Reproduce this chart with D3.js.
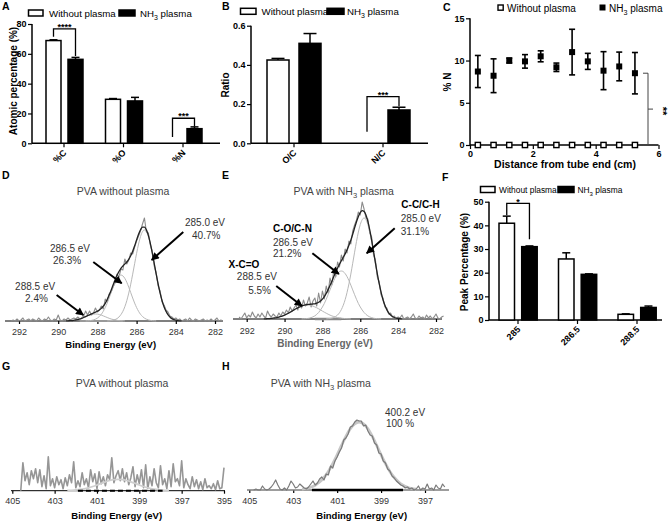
<!DOCTYPE html>
<html><head><meta charset="utf-8">
<script src="https://cdn.jsdelivr.net/npm/d3@7"></script>
<style>body{margin:0;background:#fff}svg{display:block}</style>
</head><body>
<svg id="chart" width="669" height="522"></svg>
<script>
// ================= DATA =================
// Panel A – atomic percentage
const aCategories = ["%C", "%O", "%N"];
const aWithout = [68.9, 29.5, 0];
const aWithoutErr = [0.5, 0.5, 0];
const aNH3 = [56.3, 28.4, 9.8];
const aNH3Err = [1.3, 2.4, 1.2];
const aTicks = [0, 20, 40, 60, 80];
// Panel B – ratios
const bCategories = ["O/C", "N/C"];
const bWithout = [0.425, 0];
const bWithoutErr = [0.008, 0];
const bNH3 = [0.51, 0.17];
const bNH3Err = [0.05, 0.014];
const bTicks = [0, 0.2, 0.4, 0.6];
// Panel C – %N along tube
const cDistance = [0.25, 0.75, 1.25, 1.75, 2.25, 2.75, 3.25, 3.75, 4.25, 4.75, 5.25];
const cNH3 = [8.7, 8.2, 10.0, 9.9, 10.5, 9.2, 11.0, 9.9, 8.8, 9.3, 8.5];
const cNH3Err = [1.9, 2.0, 0.3, 0.8, 0.65, 0.5, 2.7, 0.95, 2.25, 1.7, 2.45];
const cWithout = [0, 0, 0, 0, 0, 0, 0, 0, 0, 0, 0];
const cXTicks = [0, 2, 4, 6];
const cYTicks = [0, 5, 10, 15];
// Panel F – peak percentages
const fCategories = ["285", "286.5", "288.5"];
const fWithout = [40.9, 25.8, 2.4];
const fWithoutErr = [3.0, 2.6, 0.2];
const fNH3 = [31.0, 19.3, 5.3];
const fNH3Err = [0.3, 0.2, 0.6];
const fTicks = [0, 10, 20, 30, 40, 50];

// C1s spectra (energy grid: start eV, 0.1 eV steps, descending)
const c1sTicks = [292, 290, 288, 286, 284, 282];
const dRawStart = 292.4;
const dRaw = [0,1,0,2,0,1,3,0,1,2, 0,2,1,0,3,1,0,2,1,4, 1,0,2,1,6,1,0,2,1,3, 1,2,3,2,4,2,3,5,10,6,
  10,6,8,13,9,11,15,12,22,19, 27,29,34,38,47,44,52,51,62,57, 61,68,67,74,80,85,90,97,103,89,
  88,76,70,55,48,35,30,19,16,11, 9,5,4,2,3,1,2,0,1,2, 0,3,1,0,2,1,0,1,2,0, 1,0,2,0,1,3,0,1,0];
const dFit288Start = 289.6;
const dFit288 = [.1,.2,.3,.4,.7,1.0,1.5,2.0,2.7,3.5,4.3,5.1,5.9,6.5,6.9,7,6.9,6.5,5.9,5.1,4.3,3.5,2.7,2.0,1.5,1.0,.7,.4,.3,.2,.1];
const dFit286Start = 288.6;
const dFit286 = [.1,.2,.3,.6,1.1,1.8,2.9,4.5,6.7,9.7,13.4,17.9,23.0,28.4,33.8,38.7,42.6,45.1,46,45.1,42.6,38.7,33.8,28.4,23.0,17.9,13.4,9.7,6.7,4.5,2.9,1.8,1.1,.6,.3,.2,.1];
const dFit285Start = 287.5;
const dFit285 = [.1,.2,.4,.8,1.4,2.4,4.0,6.4,9.7,14.3,20.3,27.9,36.8,46.8,57.3,67.7,77.0,84.5,89.3,91,89.3,84.5,77.0,67.7,57.3,46.8,36.8,27.9,20.3,14.3,9.7,6.4,4.0,2.4,1.4,.8,.4,.2,.1];
const dBackground = [288.9, 286.7];

const eRawStart = 292.4;
const eRaw = [2,0,3,6,1,4,2,7,3,1, 5,2,6,3,1,8,4,2,5,3, 2,6,3,7,5,9,6,12,8,11, 14,9,17,11,19,13,16,22,12,18,
  21,13,26,16,28,20,33,26,41,34, 49,42,57,52,64,58,70,66,78,75, 88,94,99,107,104,117,110,101,100,86,
  82,64,59,42,37,24,21,12,11,5, 6,2,3,0,2,1,4,0,1,2, 0,2,5,1,0,3,1,2,0,4, 1,3,0,2,5,1,0,2,3];
const eFit288Start = 291.1;
const eFit288 = [.1,.2,.3,.4,.6,.8,1.1,1.4,1.9,2.5,3.1,3.9,4.8,5.8,6.8,7.9,9.1,10.2,11.2,12.1,12.9,13.5,13.9,14,13.9,13.5,12.9,12.1,11.2,10.2,9.1,7.9,6.8,5.8,4.8,3.9,3.1,2.5,1.9,1.4,1.1,.8,.6,.4,.3,.2,.1];
const eFit286Start = 289.1;
const eFit286 = [.1,.2,.3,.5,.8,1.4,2.1,3.1,4.6,6.5,9.0,12.0,15.5,19.7,24.3,29.1,33.9,38.4,42.4,45.4,47.4,48,47.4,45.4,42.4,38.4,33.9,29.1,24.3,19.7,15.5,12.0,9.0,6.5,4.6,3.1,2.1,1.4,.8,.5,.3,.2,.1];
const eFit285Start = 287.8;
const eFit285 = [.1,.3,.5,.8,1.5,2.5,4.0,6.2,9.4,13.7,19.3,26.5,35.1,44.9,55.7,66.8,77.5,87.0,94.5,99.3,101,99.3,94.5,87.0,77.5,66.8,55.7,44.9,35.1,26.5,19.3,13.7,9.4,6.2,4.0,2.5,1.5,.8,.5,.3,.1];
const eBackground = [288.4, 287.0];

// N1s spectra
const gTicks = [405, 403, 401, 399, 397, 395];
const hTicks = [405, 403, 401, 399, 397];
const gRawStart = 404.6;
const gRaw = [0,28,10,18,6,20,12,22,8,21, 4,15,2,34,5,12,3,14,6,11, 2,13,5,16,8,29,3,10,4,18,
  6,12,3,21,9,17,2,19,7,14, 5,16,11,33,8,15,20,10,22,9, 18,6,13,24,4,16,7,21,3,26,
  2,14,5,22,8,3,25,6,12,2, 20,4,27,9,12,5,30,3,12,6, 2,14,4,11,2,9,1,12,3,5, 2,7,1,10,2,3,23];
const gFitStart = 402.4;   // 0.2 eV steps
const gFit = [.2,.4,.7,1.2,1.9,2.9,4.2,5.7,7.3,8.9,10.2,11.1,11.4,11.1,10.2,8.9,7.3,5.7,4.2,2.9,1.9,1.2,.7,.4,.2];
const gBackground = [401.9, 397.9];
const hRawStart = 404.8;
const hRaw = [0,1,0,0,4,1,0,1,3,6, 10,5,1,0,2,0,4,9,6,2, 3,6,4,2,1,3,6,9,5,7, 11,13,10,16,15,24,22,29,33,38,
  42,50,52,56,63,64,68,70,69,69, 64,65,59,55,54,47,45,37,36,29, 27,21,19,14,12,9,7,5,4,2,
  3,1,2,0,1,4,0,2,1,6, 1,2,0,5,2,1,6,3];
const hFitStart = 402.6;   // 0.2 eV steps
const hFit = [.8,1.5,2.8,4.8,8.0,12.5,18.6,26.3,35.1,44.6,53.6,61.2,66.2,68,66.2,61.2,53.6,44.6,35.1,26.3,18.6,12.5,8.0,4.8,2.8,1.5,.8];
const hBackground = [402.15, 398.0];

// ================= DRAWING =================
const F = "'Liberation Sans', Arial, Helvetica, sans-serif";
const svg = d3.select("#chart");

function setRich(t, s, size) {
  const parts = s.split("NH3");
  parts.forEach((p, i) => {
    if (i > 0) {
      t.append("tspan").text("NH");
      t.append("tspan").attr("font-size", size * 0.72).attr("dy", size * 0.3).text("3");
      t.append("tspan").attr("dy", -size * 0.3).text(p);
    } else if (p) t.append("tspan").text(p);
  });
}
function label(x, y, s, o = {}) {
  const size = o.size || 10;
  const t = svg.append("text").attr("x", x).attr("y", y)
    .attr("font-family", F).attr("font-size", size)
    .attr("font-weight", o.bold ? "bold" : "normal")
    .attr("fill", o.fill || "#000")
    .attr("text-anchor", o.anchor || "start");
  if (o.rotate) t.attr("transform", `rotate(${o.rotate},${x},${y})`);
  setRich(t, s, size);
  return t;
}
function line(x1, y1, x2, y2, w = 1.5, c = "#000") {
  return svg.append("line").attr("x1", x1).attr("y1", y1).attr("x2", x2).attr("y2", y2)
    .attr("stroke", c).attr("stroke-width", w);
}
function styleAxis(g, size, bold, color) {
  g.select(".domain").remove();
  g.selectAll(".tick line").attr("stroke", color || "#000").attr("stroke-width", 1.2);
  g.selectAll(".tick text").attr("font-family", F).attr("font-size", size)
    .attr("font-weight", bold ? "bold" : "normal").attr("fill", color || "#000");
}

function drawBars(o) {
  const y0 = o.y(0), yTop = o.y(o.y.domain()[1]);
  const ax = svg.append("g").attr("transform", `translate(${o.axisX},0)`)
    .call(d3.axisLeft(o.y).tickValues(o.ticks).tickFormat(o.fmt).tickSize(4).tickPadding(1.5).tickSizeOuter(0));
  styleAxis(ax, o.fs, true);
  line(o.axisX, yTop, o.axisX, y0, 1.5);
  line(o.axisX, y0, o.axisEnd, y0, 1.5);
  const cx = c => o.x(c) + o.x.bandwidth() / 2;
  o.cats.forEach(c => {
    line(cx(c), y0, cx(c), y0 + 4, 1.2);
    svg.append("text").attr("font-family", F).attr("font-size", o.fs).attr("font-weight", "bold")
      .attr("text-anchor", "end")
      .attr("transform", `translate(${cx(c) + 3},${y0 + 10}) rotate(-45)`).text(c);
  });
  const series = [
    { v: o.w, e: o.we, fill: "#fff", off: o.offW },
    { v: o.n, e: o.ne, fill: "#000", off: o.offN }
  ];
  series.forEach(s => {
    o.cats.forEach((c, i) => {
      if (s.v[i] <= 0) return;
      const bx = cx(c) + s.off, top = o.y(s.v[i]), mid = bx + o.barW / 2;
      const et = o.y(s.v[i] + s.e[i]);
      line(mid, top, mid, et, 1.5);
      line(mid - o.capW / 2, et, mid + o.capW / 2, et, 1.5);
      svg.append("rect").attr("x", bx).attr("y", top).attr("width", o.barW).attr("height", y0 - top)
        .attr("fill", s.fill).attr("stroke", "#000").attr("stroke-width", 1.5);
    });
  });
  (o.brackets || []).forEach(b => {
    const i = o.cats.indexOf(b.cat);
    const lx = cx(b.cat) + o.offW + o.barW / 2, rx = cx(b.cat) + o.offN + o.barW / 2;
    const ty = o.y(b.top);
    const ly = o.y(o.w[i] + o.we[i]) - b.lg, ry = o.y(o.n[i] + o.ne[i]) - b.rg;
    svg.append("path").attr("d", `M${lx},${ly}V${ty}H${rx}V${ry}`)
      .attr("fill", "none").attr("stroke", "#000").attr("stroke-width", 1.3);
    label((lx + rx) / 2, ty + 1.2, b.stars, { size: 9, bold: true, anchor: "middle" });
  });
}

function legendBars(xOpen, xText1, xFilled, xText2, y, w, h, fs) {
  svg.append("rect").attr("x", xOpen).attr("y", y).attr("width", w).attr("height", h)
    .attr("fill", "#fff").attr("stroke", "#000").attr("stroke-width", 1.5);
  label(xText1, y + h + 0.8, "Without plasma", { size: fs });
  svg.append("rect").attr("x", xFilled).attr("y", y).attr("width", w + 1.5).attr("height", h)
    .attr("fill", "#000").attr("stroke", "#000").attr("stroke-width", 1.5);
  label(xText2, y + h + 0.8, "NH3 plasma", { size: fs });
}

// ---------- Panel A ----------
label(2, 9.5, "A", { size: 10.5, bold: true });
legendBars(28.5, 49, 119, 140, 10, 14.5, 6, 9.7);
const xA = d3.scaleBand().domain(aCategories).range([34.25, 212.75]);
const yA = d3.scaleLinear().domain([0, 80]).range([143.3, 24]);
drawBars({ x: xA, y: yA, cats: aCategories, w: aWithout, we: aWithoutErr, n: aNH3, ne: aNH3Err,
  axisX: 32, axisEnd: 220, ticks: aTicks, fmt: d3.format("d"), fs: 9, barW: 15, offW: -18, offN: 4, capW: 8,
  brackets: [{ cat: "%C", top: 76.7, lg: 3, rg: 1.5, stars: "****" }, { cat: "%N", top: 16.8, lg: 6.3, rg: 0.5, stars: "***" }] });
label(16.5, 81, "Atomic percentage (%)", { size: 10, bold: true, anchor: "middle", rotate: -90 });

// ---------- Panel B ----------
label(222, 9.5, "B", { size: 10.5, bold: true });
legendBars(240.5, 261.5, 327, 347, 8.3, 15.5, 6, 9.7);
const xB = d3.scaleBand().domain(bCategories).range([249.5, 427.5]);
const yB = d3.scaleLinear().domain([0, 0.6]).range([143.3, 25.7]);
drawBars({ x: xB, y: yB, cats: bCategories, w: bWithout, we: bWithoutErr, n: bNH3, ne: bNH3Err,
  axisX: 251, axisEnd: 428, ticks: bTicks, fmt: d3.format(".1f"), fs: 9, barW: 22, offW: -27, offN: 5, capW: 13,
  brackets: [{ cat: "N/C", top: 0.238, lg: 11.6, rg: 1, stars: "***" }] });
label(228.5, 85, "Ratio", { size: 10, bold: true, anchor: "middle", rotate: -90 });

// ---------- Panel C ----------
label(443, 10.5, "C", { size: 10.5, bold: true });
const xC = d3.scaleLinear().domain([0, 6]).range([470, 658.5]);
const yC = d3.scaleLinear().domain([0, 15]).range([145, 18.3]);
const axCy = svg.append("g").attr("transform", "translate(470,0)")
  .call(d3.axisLeft(yC).tickValues(cYTicks).tickFormat(d3.format("d")).tickSize(4).tickPadding(1.5).tickSizeOuter(0));
styleAxis(axCy, 9, true);
const axCx = svg.append("g").attr("transform", "translate(0,145)")
  .call(d3.axisBottom(xC).tickValues(cXTicks).tickFormat(d3.format("d")).tickSize(4).tickPadding(1.5).tickSizeOuter(0));
styleAxis(axCx, 9, true);
line(470, yC(15), 470, yC(0), 1.5);
line(470, yC(0), 658.5, yC(0), 1.5);
cDistance.forEach((d, i) => {
  const x = xC(d), y1 = yC(cNH3[i] - cNH3Err[i]), y2 = yC(cNH3[i] + cNH3Err[i]);
  line(x, y1, x, y2, 1.6);
  line(x - 3, y1, x + 3, y1, 1.6);
  line(x - 3, y2, x + 3, y2, 1.6);
  svg.append("rect").attr("x", x - 3).attr("y", yC(cNH3[i]) - 3).attr("width", 6).attr("height", 6).attr("fill", "#000");
  svg.append("rect").attr("x", x - 2.6).attr("y", yC(cWithout[i]) - 2.6).attr("width", 5.2).attr("height", 5.2)
    .attr("fill", "#fff").attr("stroke", "#000").attr("stroke-width", 1.4);
});
svg.append("rect").attr("x", 498).attr("y", 5).attr("width", 5.2).attr("height", 5.2)
  .attr("fill", "#fff").attr("stroke", "#000").attr("stroke-width", 1.4);
label(507, 11.5, "Without plasma", { size: 10 });
svg.append("rect").attr("x", 599.5).attr("y", 4.5).attr("width", 6).attr("height", 6).attr("fill", "#000");
label(609, 11.5, "NH3 plasma", { size: 10 });
svg.append("path").attr("d", `M643,${yC(cNH3[10])}H648V${yC(0)}H643M648,${(yC(cNH3[10]) + yC(0)) / 2}H653`)
  .attr("fill", "none").attr("stroke", "#444").attr("stroke-width", 1);
label(659, 111, "**", { size: 11, bold: true, anchor: "middle", rotate: 90 });
label(450.5, 82, "% N", { size: 10, bold: true, anchor: "middle", rotate: -90 });
label(565, 168, "Distance from tube end (cm)", { size: 10.5, bold: true, anchor: "middle" });

// ---------- Spectra helpers ----------
function pts(start, step, vals) {
  return vals.map((v, i) => [Math.round((start - i * step) * 100) / 100, v]);
}
function envelope(comps) {
  const m = new Map();
  comps.forEach(c => c.forEach(([e, v]) => {
    const k = Math.round(e * 10);
    m.set(k, (m.get(k) || 0) + v);
  }));
  return [...m.entries()].sort((a, b) => b[0] - a[0]).map(([k, v]) => [k / 10, v]);
}
function specAxis(x, yBase, ticks, from, to, pad, color) {
  line(from, yBase, to, yBase, 1, "#000");
  const g = svg.append("g").attr("transform", `translate(0,${yBase})`)
    .call(d3.axisBottom(x).tickValues(ticks).tickSize(3).tickPadding(pad).tickSizeOuter(0));
  styleAxis(g, 9, false, "#000");
  g.selectAll(".tick text").attr("fill", color || "#333");
}
function path(data, x, y, color, w, curve, dash) {
  const p = svg.append("path").datum(data)
    .attr("d", d3.line().x(d => x(d[0])).y(d => y(d[1])).curve(curve || d3.curveLinear))
    .attr("fill", "none").attr("stroke", color).attr("stroke-width", w).attr("stroke-linejoin", "round");
  if (dash) p.attr("stroke-dasharray", dash);
  return p;
}
svg.append("defs").append("marker").attr("id", "ah").attr("viewBox", "0 0 10 10")
  .attr("refX", 9).attr("refY", 5).attr("markerWidth", 9).attr("markerHeight", 8)
  .attr("markerUnits", "userSpaceOnUse").attr("orient", "auto")
  .append("path").attr("d", "M0,0L10,5L0,10z").attr("fill", "#000");
function arrow(x, y, a) {
  svg.append("line").attr("x1", x(a[0])).attr("y1", y(a[1])).attr("x2", x(a[2])).attr("y2", y(a[3]))
    .attr("stroke", "#000").attr("stroke-width", 2).attr("marker-end", "url(#ah)");
}

// ---------- Panel D ----------
label(2, 178.5, "D", { size: 10.5, bold: true });
label(123, 194.5, "PVA without plasma", { size: 10.5, fill: "#444", anchor: "middle" });
const xD = d3.scaleLinear().domain([292, 282]).range([19, 215]);
const yD = d3.scaleLinear().domain([0, 100]).range([321, 221]);
specAxis(xD, 321, c1sTicks, 5, 223, 4.6);
path(dBackground.map(e => [e, 0]), xD, yD, "#999", 2.2);
const dC1 = pts(dFit285Start, 0.1, dFit285), dC2 = pts(dFit286Start, 0.1, dFit286), dC3 = pts(dFit288Start, 0.1, dFit288);
path(pts(dRawStart, 0.1, dRaw), xD, yD, "#8c8c8c", 1.1);
[dC1, dC2, dC3].forEach(c => path(c, xD, yD, "#b8b8b8", 1, d3.curveMonotoneX));
path(envelope([dC1, dC2, dC3]), xD, yD, "#222", 1.3, d3.curveMonotoneX);
label(xD(283.53), yD(95.5), "285.0 eV", { size: 10, fill: "#333" });
label(xD(283.17), yD(82), "40.7%", { size: 10, fill: "#333" });
label(xD(290.42), yD(69), "286.5 eV", { size: 10, fill: "#333" });
label(xD(290.27), yD(57), "26.3%", { size: 10, fill: "#333" });
label(xD(292.2), yD(31), "288.5 eV", { size: 10, fill: "#333" });
label(xD(291.69), yD(19.5), "2.4%", { size: 10, fill: "#333" });
arrow(xD, yD, [283.62, 89, 285.23, 61]);
arrow(xD, yD, [288.21, 59, 286.76, 37.7]);
arrow(xD, yD, [290.08, 26, 288.72, 6]);
label(110.7, 347.5, "Binding Energy (eV)", { size: 9.5, bold: true, anchor: "middle" });

// ---------- Panel E ----------
label(222, 178.5, "E", { size: 10.5, bold: true });
label(343.7, 194.5, "PVA with NH3 plasma", { size: 10.5, fill: "#444", anchor: "middle" });
const xE = d3.scaleLinear().domain([292, 282]).range([246.7, 436]);
const yE = d3.scaleLinear().domain([0, 100]).range([319, 219]);
specAxis(xE, 319, c1sTicks, 233, 442, 5.6);
path(eBackground.map(e => [e, 0]), xE, yE, "#888", 2.5);
const eC1 = pts(eFit285Start, 0.1, eFit285), eC2 = pts(eFit286Start, 0.1, eFit286), eC3 = pts(eFit288Start, 0.1, eFit288);
path(pts(eRawStart, 0.1, eRaw), xE, yE, "#8c8c8c", 1.1);
[eC1, eC2, eC3].forEach(c => path(c, xE, yE, "#b8b8b8", 1, d3.curveMonotoneX));
path(envelope([eC1, eC2, eC3]), xE, yE, "#222", 1.3, d3.curveMonotoneX);
label(xE(283.83), yE(111), "C-C/C-H", { size: 10, bold: true });
label(xE(283.86), yE(97), "285.0 eV", { size: 10, fill: "#333" });
label(xE(283.86), yE(84.5), "31.1%", { size: 10, fill: "#333" });
label(xE(290.61), yE(87.5), "C-O/C-N", { size: 10, bold: true });
label(xE(290.61), yE(73.5), "286.5 eV", { size: 10, fill: "#333" });
label(xE(290.61), yE(62), "21.2%", { size: 10, fill: "#333" });
label(xE(292.96), yE(51), "X-C=O", { size: 10, bold: true });
label(xE(292.52), yE(39), "288.5 eV", { size: 10, fill: "#333" });
label(xE(291.92), yE(25), "5.5%", { size: 10, fill: "#333" });
arrow(xE, yE, [284.18, 90.7, 285.66, 65.7]);
arrow(xE, yE, [288.53, 65.7, 287.13, 45]);
arrow(xE, yE, [290.44, 33, 289.08, 13]);
label(325, 347, "Binding Energy  (eV)", { size: 10, bold: true, fill: "#666", anchor: "middle" });

// ---------- Panel F ----------
label(442, 180.5, "F", { size: 10.5, bold: true });
legendBars(480.5, 499, 558, 577.5, 186.5, 14.5, 6, 8.4);
const xF = d3.scaleBand().domain(fCategories).range([488.25, 666.75]);
const yF = d3.scaleLinear().domain([0, 50]).range([320, 201.7]);
drawBars({ x: xF, y: yF, cats: fCategories, w: fWithout, we: fWithoutErr, n: fNH3, ne: fNH3Err,
  axisX: 489, axisEnd: 662, ticks: fTicks, fmt: d3.format("d"), fs: 9, barW: 15.5, offW: -19, offN: 3.7, capW: 8,
  brackets: [{ cat: "285", top: 49.3, lg: 1, rg: 6.7, stars: "*" }] });
label(468, 262, "Peak Percentage (%)", { size: 10, bold: true, anchor: "middle", rotate: -90 });

// ---------- Panel G ----------
label(2, 370, "G", { size: 10.5, bold: true });
label(122, 387, "PVA without plasma", { size: 10.5, fill: "#444", anchor: "middle" });
const xG = d3.scaleLinear().domain([405, 395]).range([12.3, 224]);
const yG = d3.scaleLinear().domain([0, 40]).range([490.7, 450.7]);
specAxis(xG, 490.7, gTicks, 11, 225, 4.4);
path(pts(gRawStart, 0.1, gRaw), xG, yG, "#969696", 1.6);
path(pts(gFitStart, 0.2, gFit), xG, yG, "#cfcfcf", 1.8, d3.curveMonotoneX);
path(gBackground.map(e => [e, 0]), xG, yG, "#000", 2, d3.curveLinear, "5,3");
label(116.7, 518.5, "Binding Energy (eV)", { size: 9.5, bold: true, anchor: "middle" });

// ---------- Panel H ----------
label(222, 370, "H", { size: 10.5, bold: true });
label(320.8, 387, "PVA with NH3 plasma", { size: 10.5, fill: "#444", anchor: "middle" });
const xH = d3.scaleLinear().domain([405, 397]).range([249.3, 425]);
const yH = d3.scaleLinear().domain([0, 70]).range([490, 420]);
specAxis(xH, 490, hTicks, 247, 449, 5.1);
line(247, 490, 449, 490, 1.2, "#bbb");
path(pts(hFitStart, 0.2, hFit), xH, yH, "#c6c6c6", 2.8, d3.curveMonotoneX);
path(pts(hRawStart, 0.1, hRaw), xH, yH, "#7a7a7a", 1.2);
path(hBackground.map(e => [e, 0]), xH, yH, "#000", 2.4);
label(xH(398.82), yH(74.5), "400.2 eV", { size: 10, fill: "#333" });
label(xH(398.78), yH(63), "100 %", { size: 10, fill: "#333" });
label(361.7, 518.5, "Binding Energy (eV)", { size: 9.5, bold: true, anchor: "middle" });
</script>
</body></html>
